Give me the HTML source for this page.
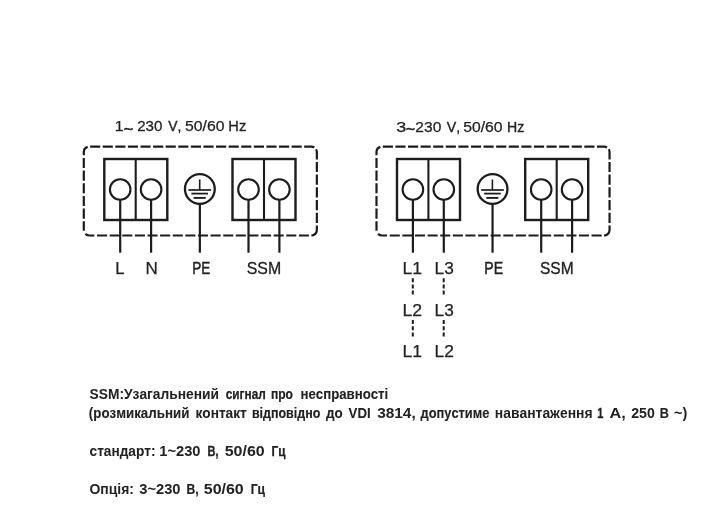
<!DOCTYPE html>
<html><head><meta charset="utf-8">
<style>
html,body{margin:0;padding:0;background:#fff;}
body{width:704px;height:528px;overflow:hidden;font-family:"Liberation Sans",sans-serif;}
svg{display:block;filter:grayscale(1) blur(0.3px)}
text{font-family:"Liberation Sans",sans-serif;fill:#222;font-kerning:none}
</style></head><body>
<svg width="704" height="528" viewBox="0 0 704 528">
<defs>
<g id="unit" fill="none" stroke="#1c1c1c">
  <path d="M90.10 146.6H100.25M102.69 146.6H112.84M115.29 146.6H125.44M127.88 146.6H138.03M140.48 146.6H150.63M153.07 146.6H163.22M165.66 146.6H175.81M178.26 146.6H188.41M190.85 146.6H201.00M203.45 146.6H213.60M216.04 146.6H226.19M228.63 146.6H238.78M241.23 146.6H251.38M253.82 146.6H263.97M266.42 146.6H276.57M279.01 146.6H289.16M291.60 146.6H301.75M316.85 161.90V172.00M316.85 174.62V184.72M316.85 187.34V197.44M316.85 200.06V210.16M316.85 212.78V222.88M97.05 235.5H107.10M109.66 235.5H119.71M122.28 235.5H132.33M134.89 235.5H144.94M147.51 235.5H157.56M160.12 235.5H170.18M172.74 235.5H182.79M185.36 235.5H195.41M197.97 235.5H208.02M210.58 235.5H220.63M223.20 235.5H233.25M235.81 235.5H245.87M248.43 235.5H258.48M261.05 235.5H271.10M273.66 235.5H283.71M286.27 235.5H296.32M298.89 235.5H308.94M83.8 157.90V168.00M83.8 170.56V180.66M83.8 183.22V193.32M83.8 195.88V205.98M83.8 208.54V218.64M83.8 221.20V230.80M83.8 155.3V152.1A5.5 5.5 0 0 1 87.65 146.85M304.2 146.6H311.35A5.5 5.5 0 0 1 314.29 147.45M316.04 149.23A5.5 5.5 0 0 1 316.85 152.1V159.4M316.85 225.4V230.0A5.5 5.5 0 0 1 311.35 235.5H311.6M94.4 235.5H89.3A5.5 5.5 0 0 1 85.41 233.89" stroke-width="2.2"/>
  <rect x="104.3" y="159" width="63" height="61" stroke-width="2.4"/>
  <line x1="135.7" y1="159" x2="135.7" y2="220" stroke-width="2.1"/>
  <line x1="120.2" y1="199.9" x2="120.2" y2="252.7" stroke-width="2.2"/>
  <line x1="151.1" y1="199.9" x2="151.1" y2="252.7" stroke-width="2.2"/>
  <circle cx="120.2" cy="189.5" r="10.3" stroke-width="2.1" fill="#fff"/>
  <circle cx="151.1" cy="189.5" r="10.3" stroke-width="2.1" fill="#fff"/>
  <circle cx="199.85" cy="189" r="14.9" stroke-width="2.3"/>
  <line x1="199.85" y1="204" x2="199.85" y2="252.7" stroke-width="2.2"/>
  <line x1="199.7" y1="179.5" x2="199.7" y2="190" stroke-width="1.6"/>
  <line x1="188.4" y1="190" x2="211.1" y2="190" stroke-width="1.7"/>
  <line x1="191.4" y1="193.6" x2="208" y2="193.6" stroke-width="1.8"/>
  <line x1="193.6" y1="197.9" x2="205.7" y2="197.9" stroke-width="1.9"/>
  <rect x="232.5" y="159" width="63" height="61" stroke-width="2.4"/>
  <line x1="264" y1="159" x2="264" y2="220" stroke-width="2.1"/>
  <line x1="248.5" y1="199.9" x2="248.5" y2="252.7" stroke-width="2.2"/>
  <line x1="279.4" y1="199.9" x2="279.4" y2="252.7" stroke-width="2.2"/>
  <circle cx="248.5" cy="189.5" r="10.3" stroke-width="2.1" fill="#fff"/>
  <circle cx="279.4" cy="189.5" r="10.3" stroke-width="2.1" fill="#fff"/>
</g>
</defs>
<use href="#unit"/>
<use href="#unit" x="292.7"/>
<g font-size="15.4">
<text x="114.70" y="131.4" textLength="8.77" lengthAdjust="spacingAndGlyphs" stroke="#222" stroke-width="0.25">1</text>
<text x="137.24" y="131.4" textLength="25.15" lengthAdjust="spacingAndGlyphs" stroke="#222" stroke-width="0.28">230</text>
<text x="168.14" y="131.4" textLength="13.11" lengthAdjust="spacingAndGlyphs" stroke="#222" stroke-width="0.38">V,</text>
<text x="185.07" y="131.4" textLength="39.45" lengthAdjust="spacingAndGlyphs" stroke="#222" stroke-width="0.25">50/60</text>
<text x="228.30" y="131.4" textLength="17.93" lengthAdjust="spacingAndGlyphs" stroke="#222" stroke-width="0.31">Hz</text>
<text x="396.32" y="131.5" textLength="9.97" lengthAdjust="spacingAndGlyphs" stroke="#222" stroke-width="0.25">3</text>
<text x="415.32" y="131.5" textLength="25.99" lengthAdjust="spacingAndGlyphs" stroke="#222" stroke-width="0.25">230</text>
<text x="446.74" y="131.5" textLength="13.44" lengthAdjust="spacingAndGlyphs" stroke="#222" stroke-width="0.35">V,</text>
<text x="463.27" y="131.5" textLength="39.34" lengthAdjust="spacingAndGlyphs" stroke="#222" stroke-width="0.25">50/60</text>
<text x="507.04" y="131.5" textLength="17.26" lengthAdjust="spacingAndGlyphs" stroke="#222" stroke-width="0.36">Hz</text>
<text x="123.77" y="133.8" textLength="9.45" lengthAdjust="spacingAndGlyphs" stroke="#222" stroke-width="0.6">~</text>
<text x="406.10" y="133.8" textLength="9.10" lengthAdjust="spacingAndGlyphs" stroke="#222" stroke-width="0.6">~</text>
</g>
<g font-size="16.5">
<text x="115.24" y="273.7" textLength="9.21" lengthAdjust="spacingAndGlyphs" stroke="#222" stroke-width="0.25">L</text>
<text x="145.40" y="273.7" textLength="12.28" lengthAdjust="spacingAndGlyphs" stroke="#222" stroke-width="0.25">N</text>
<text x="192.19" y="273.7" textLength="18.10" lengthAdjust="spacingAndGlyphs" stroke="#222" stroke-width="0.50">PE</text>
<text x="246.78" y="273.7" textLength="34.42" lengthAdjust="spacingAndGlyphs" stroke="#222" stroke-width="0.30">SSM</text>
<text x="402.45" y="273.7" textLength="19.61" lengthAdjust="spacingAndGlyphs" stroke="#222" stroke-width="0.25">L1</text>
<text x="434.59" y="273.7" textLength="19.17" lengthAdjust="spacingAndGlyphs" stroke="#222" stroke-width="0.25">L3</text>
<text x="484.25" y="273.7" textLength="18.76" lengthAdjust="spacingAndGlyphs" stroke="#222" stroke-width="0.46">PE</text>
<text x="540.00" y="273.7" textLength="33.57" lengthAdjust="spacingAndGlyphs" stroke="#222" stroke-width="0.34">SSM</text>
<text x="402.45" y="315.6" textLength="19.64" lengthAdjust="spacingAndGlyphs" stroke="#222" stroke-width="0.25">L2</text>
<text x="434.59" y="315.6" textLength="19.17" lengthAdjust="spacingAndGlyphs" stroke="#222" stroke-width="0.25">L3</text>
<text x="402.45" y="356.6" textLength="19.61" lengthAdjust="spacingAndGlyphs" stroke="#222" stroke-width="0.25">L1</text>
<text x="434.58" y="356.6" textLength="19.30" lengthAdjust="spacingAndGlyphs" stroke="#222" stroke-width="0.25">L2</text>
</g>
<g stroke="#1c1c1c" stroke-width="2" stroke-dasharray="4 2.2" fill="none">
<line x1="412.8" y1="278.2" x2="412.8" y2="294.8"/>
<line x1="443.7" y1="278.2" x2="443.7" y2="294.8"/>
<line x1="412.8" y1="320.1" x2="412.8" y2="336.7"/>
<line x1="443.7" y1="320.1" x2="443.7" y2="336.7"/>
</g>
<g font-size="14" font-weight="bold" style="fill:#161616">
<text x="89.60" y="398.9" textLength="129.35" lengthAdjust="spacingAndGlyphs" stroke="#222" stroke-width="0.03">SSM:Узагальнений</text>
<text x="225.74" y="398.9" textLength="39.99" lengthAdjust="spacingAndGlyphs" stroke="#222" stroke-width="0.25">сигнал</text>
<text x="270.96" y="398.9" textLength="22.01" lengthAdjust="spacingAndGlyphs" stroke="#222" stroke-width="0.22">про</text>
<text x="300.48" y="398.9" textLength="87.76" lengthAdjust="spacingAndGlyphs" stroke="#222" stroke-width="0.09">несправності</text>
<text x="88.84" y="417.9" textLength="100.49" lengthAdjust="spacingAndGlyphs" stroke="#222" stroke-width="0.08">(розмикальний</text>
<text x="195.45" y="417.9" textLength="51.33" lengthAdjust="spacingAndGlyphs" stroke="#222" stroke-width="0.04">контакт</text>
<text x="251.93" y="417.9" textLength="68.36" lengthAdjust="spacingAndGlyphs" stroke="#222" stroke-width="0.18">відповідно</text>
<text x="326.11" y="417.9" textLength="16.72" lengthAdjust="spacingAndGlyphs" stroke="#222" stroke-width="0.07">до</text>
<text x="348.61" y="417.9" textLength="21.97" lengthAdjust="spacingAndGlyphs" stroke="#222" stroke-width="0.09">VDI</text>
<text x="377.15" y="417.9" textLength="38.59" lengthAdjust="spacingAndGlyphs">3814,</text>
<text x="420.51" y="417.9" textLength="68.83" lengthAdjust="spacingAndGlyphs" stroke="#222" stroke-width="0.13">допустиме</text>
<text x="494.83" y="417.9" textLength="97.74" lengthAdjust="spacingAndGlyphs">навантаження</text>
<text x="597.31" y="417.9" textLength="6.10" lengthAdjust="spacingAndGlyphs" stroke="#222" stroke-width="0.35">1</text>
<text x="609.59" y="417.9" textLength="16.30" lengthAdjust="spacingAndGlyphs">А,</text>
<text x="631.21" y="417.9" textLength="23.57" lengthAdjust="spacingAndGlyphs">250</text>
<text x="659.76" y="417.9" textLength="9.12" lengthAdjust="spacingAndGlyphs" stroke="#222" stroke-width="0.16">В</text>
<text x="674.13" y="417.9" textLength="13.30" lengthAdjust="spacingAndGlyphs">~)</text>
<text x="89.57" y="455.9" textLength="65.95" lengthAdjust="spacingAndGlyphs" stroke="#222" stroke-width="0.04">стандарт:</text>
<text x="159.28" y="455.9" textLength="41.23" lengthAdjust="spacingAndGlyphs">1~230</text>
<text x="207.46" y="455.9" textLength="11.08" lengthAdjust="spacingAndGlyphs" stroke="#222" stroke-width="0.33">В,</text>
<text x="224.71" y="455.9" textLength="39.95" lengthAdjust="spacingAndGlyphs">50/60</text>
<text x="271.61" y="455.9" textLength="14.00" lengthAdjust="spacingAndGlyphs" stroke="#222" stroke-width="0.25">Гц</text>
<text x="89.53" y="494.0" textLength="44.51" lengthAdjust="spacingAndGlyphs">Опція:</text>
<text x="139.26" y="494.0" textLength="41.24" lengthAdjust="spacingAndGlyphs">3~230</text>
<text x="186.49" y="494.0" textLength="12.12" lengthAdjust="spacingAndGlyphs" stroke="#222" stroke-width="0.21">В,</text>
<text x="203.81" y="494.0" textLength="39.95" lengthAdjust="spacingAndGlyphs">50/60</text>
<text x="250.69" y="494.0" textLength="14.32" lengthAdjust="spacingAndGlyphs" stroke="#222" stroke-width="0.21">Гц</text>
</g>
</svg>
</body></html>
